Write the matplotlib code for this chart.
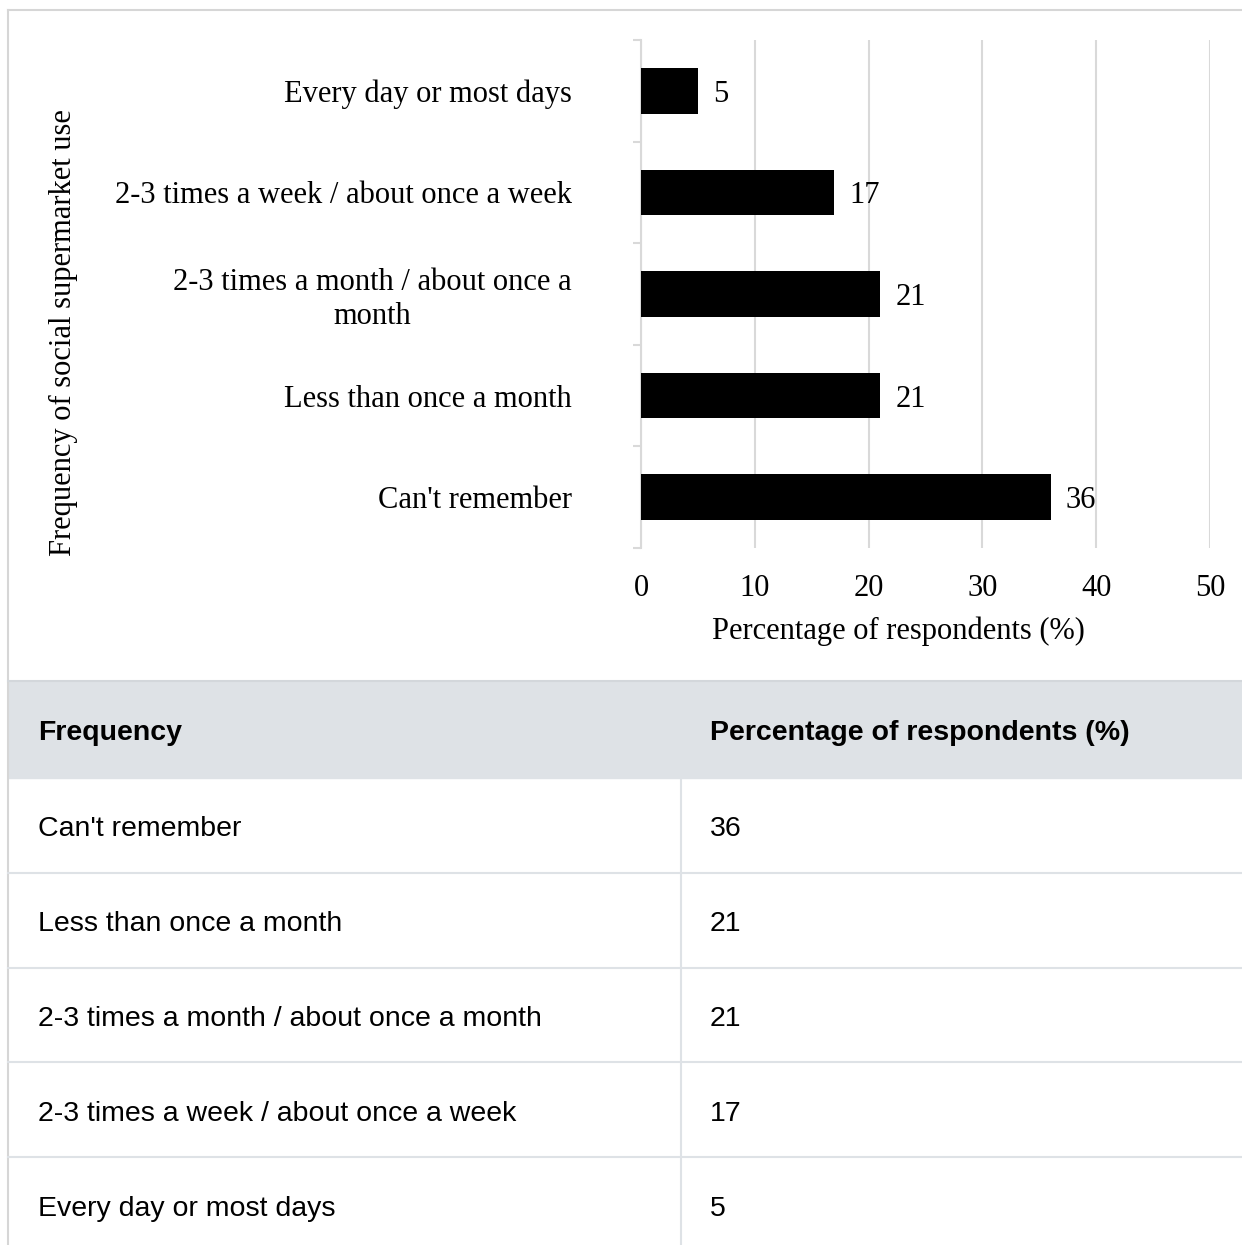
import numpy as np
import matplotlib.pyplot as plt
from matplotlib.patches import Rectangle

# datos del grafico
categories = ["Every day or most days",
              "2-3 times a week / about once a week",
              "2-3 times a month / about once a\nmonth",
              "Less than once a month",
              "Can't remember"]
values = [5, 17, 21, 21, 36]
xticks = [0, 10, 20, 30, 40, 50]

# datos de la tabla
table_header = ["Frequency", "Percentage of respondents (%)"]
table_labels = ["Can't remember",
                "Less than once a month",
                "2-3 times a month / about once a month",
                "2-3 times a week / about once a week",
                "Every day or most days"]
table_values = [36, 21, 21, 17, 5]

W, H = 1242, 1245
plt.rcParams['font.family'] = ['Liberation Serif', 'DejaVu Serif']

fig = plt.figure(figsize=(W / 100, H / 100), dpi=100)

# --- grafico de barras ---
ax = fig.add_axes([641 / W, 1 - 548 / H, 569 / W, 508 / H])
y = np.arange(len(categories))
ax.barh(y, values, height=0.45, color='black', zorder=3)
ax.set_xlim(0, 50)
ax.set_ylim(len(categories) - 0.5, -0.5)
ax.set_xticks(xticks)
ax.grid(axis='x', color='#d9d9d9', lw=1.5, zorder=0)
ax.set_axisbelow(True)
for s in ['top', 'right', 'bottom']:
    ax.spines[s].set_visible(False)
ax.spines['left'].set_color('#d9d9d9')
ax.spines['left'].set_linewidth(1.5)

ax.set_yticks(y)
ax.set_yticklabels(categories, fontsize=22, multialignment='center')
ax.set_yticks(np.arange(-0.5, len(categories)), minor=True)
ax.tick_params(axis='y', which='major', length=0, pad=50)
ax.tick_params(axis='y', which='minor', length=6, width=1.5, color='#d9d9d9')
ax.tick_params(axis='x', length=0, pad=19, labelsize=22)

for i, v in enumerate(values):
    ax.annotate(str(v), (v, i), xytext=(11, -2.5), textcoords='offset points',
                va='center', ha='left', fontsize=22)

ax.set_xlabel("Percentage of respondents (%)", fontsize=22)
ax.xaxis.set_label_coords(0.452, -0.135)
fig.text(63 / W, 1 - 333 / H, "Frequency of social supermarket use",
         rotation=90, ha='center', va='center', fontsize=22)

# --- tabla ---
tab = fig.add_axes([0, 0, 1, 1], zorder=-1)
tab.set_xlim(0, W)
tab.set_ylim(H, 0)
tab.axis('off')

border = '#d6d6d6'
line_c = '#dee2e6'
tab.plot([8, W], [10, 10], color=border, lw=1.5)
tab.plot([8, 8], [10, H], color=border, lw=1.5)

head_top, head_h, row_h = 681, 97, 94.8
tab.add_patch(Rectangle((8, head_top), W, head_h, color='#dee2e6'))
tab.plot([8, W], [head_top, head_top], color='#d3d7db', lw=1.5)

row_top = head_top + head_h
for k in range(1, len(table_labels)):
    yy = row_top + k * row_h
    tab.plot([8, W], [yy, yy], color=line_c, lw=1.5)
tab.plot([681, 681], [row_top, H], color=line_c, lw=1.5)

sans = ['Liberation Sans', 'DejaVu Sans']
dy = 4
tab.text(38, head_top + head_h / 2 + dy, table_header[0], fontsize=20.5,
         fontweight='bold', family=sans, va='center', ha='left')
tab.text(710, head_top + head_h / 2 + dy, table_header[1], fontsize=20.5,
         fontweight='bold', family=sans, va='center', ha='left')
for k, (lab, v) in enumerate(zip(table_labels, table_values)):
    yc = row_top + (k + 0.5) * row_h + dy
    tab.text(38, yc, lab, fontsize=20.5, family=sans, va='center', ha='left')
    tab.text(710, yc, str(v), fontsize=20.5, family=sans, va='center', ha='left')

fig.savefig('out.png', dpi=100)
